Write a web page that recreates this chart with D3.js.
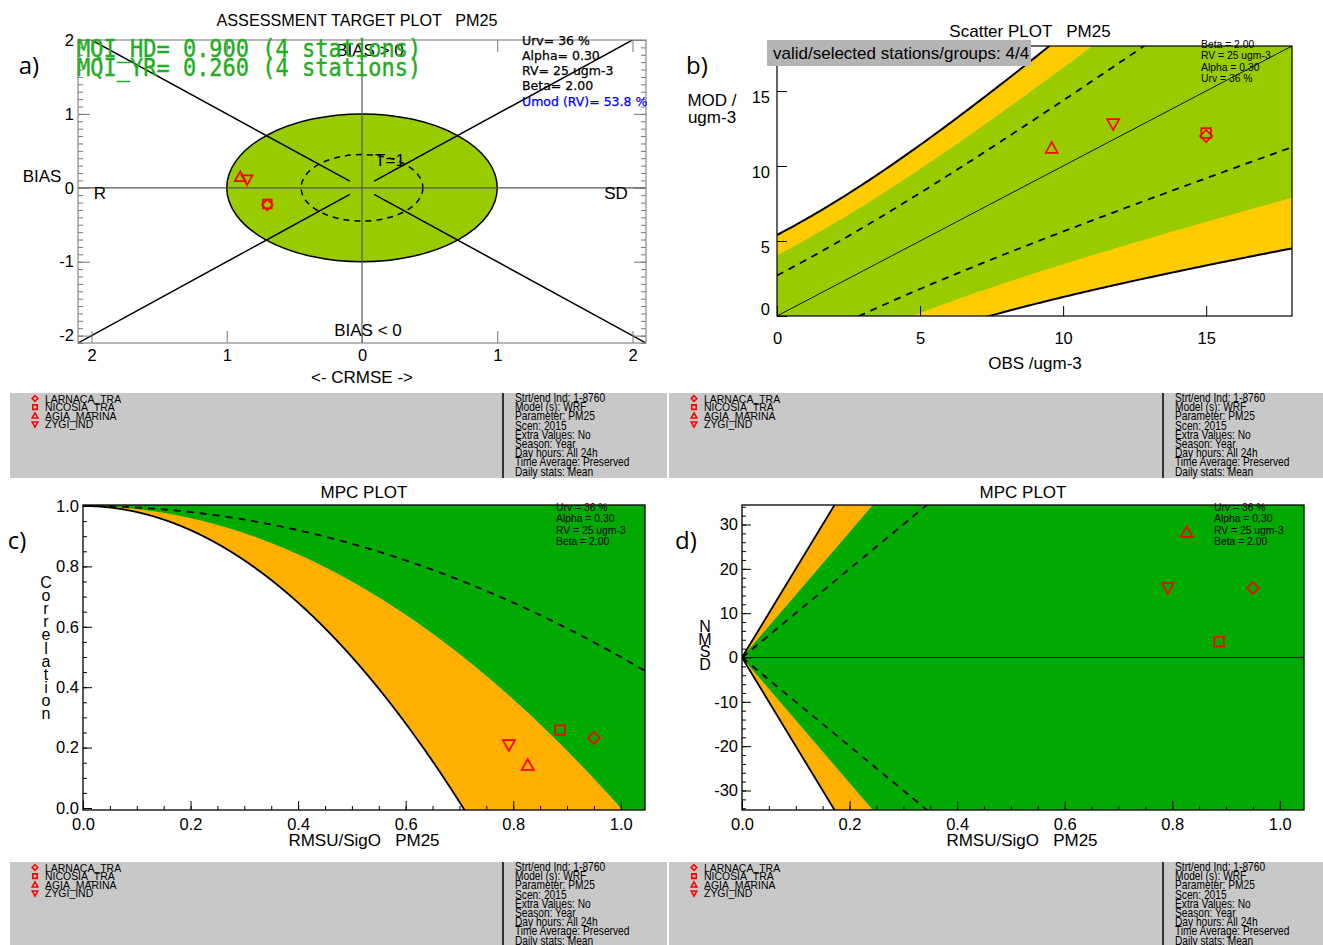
<!DOCTYPE html>
<html>
<head>
<meta charset="utf-8">
<script src="https://cdn.jsdelivr.net/npm/d3@7/dist/d3.min.js"></script>
<style>
html,body{margin:0;padding:0;background:#fff;}
</style>
</head>
<body>
<svg id="chart" width="1323" height="945" font-family='"Liberation Sans",Arial,sans-serif'></svg>
<script>
// ---------------- data ----------------
const stations = ["LARNACA_TRA","NICOSIA_TRA","AGIA_MARINA","ZYGI_IND"];
const stationSymbols = ["diamond","square","triangleUp","triangleDown"];
// a) target plot (normalised CRMSE, signed: R side <0, SD side >0 ; normalised BIAS)
const targetCRMSE = [-0.70,-0.70,-0.90,-0.85];
const targetBIAS  = [-0.23,-0.22, 0.15, 0.11];
// b) scatter (ugm-3)
const scatterOBS = [15.0,15.0, 9.6,11.75];
const scatterMOD = [12.0,12.2,11.2,12.8];
// c, d) MPC
const mpcRMSU = [0.950,0.887,0.827,0.792];
const mpcCorr = [0.232,0.258,0.142,0.209];
const mpcNMSD = [15.7,3.6,28.3,15.7];
// uncertainty parameters
const URV = 0.36, ALPHA = 0.30, RV = 25, BETA = 2.0;
const MQI_HD = "0.900", MQI_YR = "0.260", UMOD = "53.8", NSTAT = 4;
// tick values
const ticksA = [-2,-1,0,1,2];
const ticksB = [0,5,10,15];
const ticksC = [0,0.2,0.4,0.6,0.8,1.0];
const ticksDy = [-30,-20,-10,0,10,20,30];
const infoLines = ["Strt/end Ind: 1-8760","Model (s): WRF","Parameter: PM25","Scen: 2015",
  "Extra Values: No","Season: Year","Day hours: All 24h","Time Average: Preserved","Daily stats: Mean"];
const paramLines = ["Urv = 36 %","Alpha = 0.30","RV = 25 ugm-3","Beta = 2.00"];
const paramLinesA = ["Urv= 36 %","Alpha= 0.30","RV= 25 ugm-3","Beta= 2.00"];

// ---------------- helpers ----------------
const svg = d3.select("#chart");
const defs = svg.append("defs");
const FONT = '"Liberation Sans",Arial,sans-serif';
const GREEN1="#99cc00", ORANGE1="#ffcc00", GREEN2="#00aa00", ORANGE2="#ffb000", RED="#ff0000", MQIGREEN="#22ad22";
const TICKFS = 16.5, LABFS = 17;

function sym(type,s){
  switch(type){
    case "diamond": return `M0,${-s}L${s},0L0,${s}L${-s},0Z`;
    case "square": {const q=s*0.8; return `M${-q},${-q}H${q}V${q}H${-q}Z`;}
    case "triangleUp": return `M0,${-s}L${s},${s*0.8}L${-s},${s*0.8}Z`;
    case "triangleDown": return `M0,${s}L${s},${-s*0.8}L${-s},${-s*0.8}Z`;
  }
}
function clip(id,x0,y0,x1,y1){
  defs.append("clipPath").attr("id",id).append("rect")
    .attr("x",x0).attr("y",y0).attr("width",x1-x0).attr("height",y1-y0);
  return `url(#${id})`;
}
function drawAxis(g,axis,tx,ty,color,fs){
  const ax=g.append("g").attr("transform",`translate(${tx},${ty})`).call(axis);
  ax.select(".domain").remove();
  ax.selectAll(".tick line").attr("stroke",color).attr("stroke-width",1);
  ax.selectAll(".tick text").attr("font-size",fs||TICKFS).attr("fill","#000").attr("font-family",FONT);
  return ax;
}
function markers(g,xs,ys,sx,sy,size){
  stations.forEach((s,i)=>{
    g.append("path").attr("d",sym(stationSymbols[i],size||6))
      .attr("transform",`translate(${sx(xs[i])},${sy(ys[i])})`)
      .attr("fill","none").attr("stroke",RED).attr("stroke-width",1.7);
  });
}
function txt(g,x,y,t,opt){
  opt=opt||{};
  const e=g.append("text").attr("x",x).attr("y",y).text(t)
    .attr("font-size",opt.fs||LABFS).attr("fill",opt.fill||"#000")
    .attr("text-anchor",opt.anchor||"start")
    .attr("font-family",opt.family||FONT);
  e.attr("xml:space","preserve").style("white-space","pre");
  return e;
}
function stacked(g,x,y,word,dy,fs){
  const t=g.append("text").attr("x",x).attr("y",y).attr("font-size",fs||LABFS)
    .attr("text-anchor","middle").attr("fill","#000");
  word.split("").forEach((c,i)=>t.append("tspan").attr("x",x).attr("dy",i?dy:0).text(c));
}
function narrowLines(g,x,y,lines,dy,fs,sx){
  lines.forEach((t,i)=>{
    g.append("text").attr("transform",`translate(${x},${y+i*dy}) scale(${sx||0.9},1)`)
      .attr("font-size",fs).attr("fill","#000").text(t);
  });
}
const U = o => URV*Math.sqrt((1-ALPHA*ALPHA)*o*o + ALPHA*ALPHA*RV*RV);

// ================= a) TARGET PLOT =================
{
  const P={x0:78,x1:646,y0:40,y1:343};
  const x=d3.scaleLinear([-2.1,2.1],[P.x0,P.x1]);
  const y=d3.scaleLinear([-2.1,2.0],[P.y1,P.y0]);
  const g=svg.append("g");
  const cp=clip("clipA",P.x0,P.y0,P.x1,P.y1);
  const inner=g.append("g").attr("clip-path",cp);
  inner.append("ellipse").attr("cx",x(0)).attr("cy",y(0))
    .attr("rx",x(1)-x(0)).attr("ry",y(0)-y(1))
    .attr("fill",GREEN1).attr("stroke","#000").attr("stroke-width",1.5);
  inner.append("ellipse").attr("cx",x(0)).attr("cy",y(0))
    .attr("rx",x(0.45)-x(0)).attr("ry",y(0)-y(0.45))
    .attr("fill","none").attr("stroke","#000").attr("stroke-width",1.5).attr("stroke-dasharray","6,5");
  inner.append("line").attr("x1",x(-2.1)).attr("x2",x(2.1)).attr("y1",y(0)).attr("y2",y(0))
    .attr("stroke","#555").attr("stroke-width",1.2);
  inner.append("line").attr("x1",x(0)).attr("x2",x(0)).attr("y1",y(-2.1)).attr("y2",y(2.0))
    .attr("stroke","#555").attr("stroke-width",1.2);
  [[-1,1],[1,1],[-1,-1],[1,-1]].forEach(([sx,sy])=>{
    inner.append("line").attr("x1",x(sx*0.09)).attr("y1",y(sy*0.09))
      .attr("x2",x(sx*2.2)).attr("y2",y(sy*2.2)).attr("stroke","#000").attr("stroke-width",1.5);
  });
  // axes
  const minor=d3.range(-21,21).map(d=>d/10);
  drawAxis(g,d3.axisLeft(y).tickValues(ticksA).tickFormat(d=>String(d)).tickSizeInner(-12).tickSizeOuter(0).tickPadding(4),P.x0,0,"#777");
  drawAxis(g,d3.axisLeft(y).tickValues(minor).tickFormat("").tickSizeInner(-5).tickSizeOuter(0),P.x0,0,"#777");
  drawAxis(g,d3.axisRight(y).tickValues(ticksA).tickFormat("").tickSizeInner(-12).tickSizeOuter(0),P.x1,0,"#777");
  drawAxis(g,d3.axisRight(y).tickValues(minor).tickFormat("").tickSizeInner(-5).tickSizeOuter(0),P.x1,0,"#777");
  drawAxis(g,d3.axisBottom(x).tickValues(ticksA).tickFormat(d=>String(Math.abs(d))).tickSizeInner(-12).tickSizeOuter(0).tickPadding(6),0,P.y1,"#777");
  drawAxis(g,d3.axisTop(x).tickValues(ticksA).tickFormat("").tickSizeInner(-12).tickSizeOuter(0),0,P.y0,"#777");
  g.append("rect").attr("x",P.x0).attr("y",P.y0).attr("width",P.x1-P.x0).attr("height",P.y1-P.y0)
    .attr("fill","none").attr("stroke","#888").attr("stroke-width",1.2);
  // labels
  txt(g,370,56,"BIAS > 0",{anchor:"middle"});
  txt(g,390,166,"T=1",{anchor:"middle"});
  txt(g,368,336,"BIAS < 0",{anchor:"middle"});
  txt(g,100,199,"R",{anchor:"middle"});
  txt(g,616,199,"SD",{anchor:"middle"});
  txt(g,42,182,"BIAS",{anchor:"middle"});
  txt(g,362,383,"<- CRMSE ->",{anchor:"middle"});
  txt(g,357,26,"ASSESSMENT TARGET PLOT   PM25",{anchor:"middle",fs:16.2});
  txt(g,29,74,"a)",{anchor:"middle",fs:24,family:'"Open Sans",sans-serif'});
  markers(g,targetCRMSE,targetBIAS,x,y,5.5);
  // parameter text
  const pg=g.append("g").attr("clip-path",clip("clipAt",P.x0,P.y0-10,P.x1+1,P.y1));
  paramLinesA.forEach((t,i)=>txt(pg,522,44.5+i*15.3,t,{fs:12.5,family:'"DejaVu Sans",sans-serif'})
    .attr("stroke","#000").attr("stroke-width",0.25));
  txt(pg,522,44.5+4*15.3,`Umod (RV)= ${UMOD} %`,{fs:12.5,fill:"#0000ff",family:'"DejaVu Sans",sans-serif'})
    .attr("stroke","#0000ff").attr("stroke-width",0.25);
  [[57,`MQI_HD= ${MQI_HD} (${NSTAT} stations)`],[76,`MQI_YR= ${MQI_YR} (${NSTAT} stations)`]].forEach(([yy,t])=>{
    g.append("text").attr("transform",`translate(77,${yy}) scale(1,1.12)`)
      .attr("font-size",22).attr("font-family",'"DejaVu Sans Mono",monospace')
      .attr("fill",MQIGREEN).attr("stroke",MQIGREEN).attr("stroke-width",0.35)
      .attr("xml:space","preserve").style("white-space","pre").text(t);
  });
}

// ================= b) SCATTER PLOT =================
{
  const P={x0:777,x1:1292,y0:46,y1:316};
  const x=d3.scaleLinear([0,18],[P.x0,P.x1]);
  const y=d3.scaleLinear([0,18],[P.y1,P.y0]);
  const g=svg.append("g");
  const inner=g.append("g").attr("clip-path",clip("clipB",P.x0,P.y0,P.x1,P.y1));
  const og=d3.range(0,181).map(d=>d/10);
  const band=k=>og.map(o=>[o,o+k*U(o)]).concat(og.slice().reverse().map(o=>[o,o-k*U(o)]));
  const line=d3.line().x(d=>x(d[0])).y(d=>y(d[1]));
  inner.append("path").attr("d",line(band(BETA))+"Z").attr("fill",ORANGE1);
  inner.append("path").attr("d",line(band(1.5))+"Z").attr("fill",GREEN1);
  [1,-1].forEach(s=>{
    inner.append("path").attr("d",line(og.map(o=>[o,o+s*U(o)]))).attr("fill","none")
      .attr("stroke","#000").attr("stroke-width",1.8).attr("stroke-dasharray","7,6");
    inner.append("path").attr("d",line(og.map(o=>[o,o+s*BETA*U(o)]))).attr("fill","none")
      .attr("stroke","#000").attr("stroke-width",2);
  });
  inner.append("path").attr("d",line([[0,0],[18,18]])).attr("stroke","#000").attr("stroke-width",0.9);
  g.append("rect").attr("x",P.x0).attr("y",P.y0).attr("width",P.x1-P.x0).attr("height",P.y1-P.y0)
    .attr("fill","none").attr("stroke","#000").attr("stroke-width",1.2);
  const ay=drawAxis(g,d3.axisLeft(y).tickValues(ticksB).tickFormat(d=>String(d)).tickSizeInner(-10).tickSizeOuter(0).tickPadding(7),P.x0,0,"#000");
  ay.selectAll(".tick text").attr("transform",d=>d===0?"translate(0,-7)":"translate(0,6)");
  drawAxis(g,d3.axisBottom(x).tickValues(ticksB).tickFormat(d=>String(d)).tickSizeInner(-10).tickSizeOuter(0).tickPadding(16),0,P.y1,"#000");
  markers(g,scatterOBS,scatterMOD,x,y,6);
  g.append("rect").attr("x",767).attr("y",40).attr("width",264).attr("height",26).attr("fill","#b4b4b4");
  txt(g,773,59,"valid/selected stations/groups: 4/4");
  narrowLines(g,1201,48,paramLines.slice().reverse(),11.3,11.5,0.9);
  txt(g,1030,37,"Scatter PLOT   PM25",{anchor:"middle"});
  txt(g,712,106,"MOD /",{anchor:"middle"});
  txt(g,712,123,"ugm-3",{anchor:"middle"});
  txt(g,1035,369,"OBS /ugm-3",{anchor:"middle"});
  txt(g,697,74,"b)",{anchor:"middle",fs:24,family:'"Open Sans",sans-serif'});
}

// ================= c) MPC correlation =================
{
  const P={x0:83,x1:645,y0:505,y1:810};
  const x=d3.scaleLinear([0,1.045],[P.x0,P.x1]);
  const y=d3.scaleLinear([0,1],[808,506]);
  const g=svg.append("g");
  const inner=g.append("g").attr("clip-path",clip("clipC",P.x0,P.y0,P.x1,P.y1));
  const xg=d3.range(0,1051).map(d=>d/1000);
  const crit=b=>xg.map(v=>[v,1-0.5*b*b*v*v]);
  const line=d3.line().x(d=>x(d[0])).y(d=>y(d[1]));
  const area=d3.area().x(d=>x(d[0])).y0(P.y1+5).y1(d=>y(d[1]));
  inner.append("rect").attr("x",P.x0).attr("y",P.y0).attr("width",P.x1-P.x0).attr("height",P.y1-P.y0).attr("fill",GREEN2);
  inner.append("path").attr("d",area(crit(Math.SQRT2))).attr("fill",ORANGE2);
  inner.append("path").attr("d",area(crit(BETA))).attr("fill","#fff");
  inner.append("path").attr("d",line(crit(BETA))).attr("fill","none").attr("stroke","#000").attr("stroke-width",1.8);
  inner.append("path").attr("d",line(crit(1))).attr("fill","none").attr("stroke","#000").attr("stroke-width",1.8).attr("stroke-dasharray","7,6");
  g.append("rect").attr("x",P.x0).attr("y",P.y0).attr("width",P.x1-P.x0).attr("height",P.y1-P.y0)
    .attr("fill","none").attr("stroke","#000").attr("stroke-width",1.3);
  drawAxis(g,d3.axisLeft(y).tickValues(ticksC).tickFormat(d3.format(".1f")).tickSizeInner(-9).tickSizeOuter(0).tickPadding(4),P.x0,0,"#000");
  drawAxis(g,d3.axisLeft(y).tickValues(d3.range(0,21).map(d=>d/20)).tickFormat("").tickSizeInner(-4).tickSizeOuter(0),P.x0,0,"#000");
  drawAxis(g,d3.axisBottom(x).tickValues(ticksC).tickFormat(d3.format(".1f")).tickSizeInner(-9).tickSizeOuter(0).tickPadding(8),0,P.y1,"#000");
  drawAxis(g,d3.axisBottom(x).tickValues(d3.range(0,21).map(d=>d/20)).tickFormat("").tickSizeInner(-4).tickSizeOuter(0),0,P.y1,"#000");
  markers(g,mpcRMSU,mpcCorr,x,y,6);
  narrowLines(g,556,511,paramLines,11.3,11.5,0.9);
  txt(g,364,498,"MPC PLOT",{anchor:"middle"});
  txt(g,364,846,"RMSU/SigO   PM25",{anchor:"middle"});
  stacked(g,46,588,"Correlation",13.1,16);
  txt(g,17,549,"c)",{anchor:"middle",fs:24,family:'"Open Sans",sans-serif'});
}

// ================= d) MPC NMSD =================
{
  const P={x0:742,x1:1304,y0:505,y1:810};
  const x=d3.scaleLinear([0,1.045],[P.x0,P.x1]);
  const y=d3.scaleLinear([-34.4,34.4],[P.y1,P.y0]);
  const g=svg.append("g");
  const inner=g.append("g").attr("clip-path",clip("clipD",P.x0,P.y0,P.x1,P.y1));
  const xg=[0,0.3,0.5];
  const lim=(b,s)=>xg.map(v=>[v,s*100*b*v]);
  const line=d3.line().x(d=>x(d[0])).y(d=>y(d[1]));
  inner.append("rect").attr("x",P.x0).attr("y",P.y0).attr("width",P.x1-P.x0).attr("height",P.y1-P.y0).attr("fill",GREEN2);
  [1,-1].forEach(s=>{
    inner.append("path").attr("d",line(lim(Math.SQRT2,s).concat([[0,s*60]]))+"Z").attr("fill",ORANGE2);
    inner.append("path").attr("d",line(lim(BETA,s).concat([[0,s*60]]))+"Z").attr("fill","#fff");
    inner.append("path").attr("d",line(lim(BETA,s))).attr("fill","none").attr("stroke","#000").attr("stroke-width",1.8);
    inner.append("path").attr("d",line(lim(1,s))).attr("fill","none").attr("stroke","#000").attr("stroke-width",1.8).attr("stroke-dasharray","7,6");
  });
  inner.append("path").attr("d",line([[0,0],[1.045,0]])).attr("stroke","#000").attr("stroke-width",1.2);
  g.append("rect").attr("x",P.x0).attr("y",P.y0).attr("width",P.x1-P.x0).attr("height",P.y1-P.y0)
    .attr("fill","none").attr("stroke","#000").attr("stroke-width",1.3);
  drawAxis(g,d3.axisLeft(y).tickValues(ticksDy).tickFormat(d=>String(d)).tickSizeInner(-9).tickSizeOuter(0).tickPadding(4),P.x0,0,"#000");
  drawAxis(g,d3.axisLeft(y).tickValues(d3.range(-34,35,2)).tickFormat("").tickSizeInner(-4).tickSizeOuter(0),P.x0,0,"#000");
  drawAxis(g,d3.axisBottom(x).tickValues(ticksC).tickFormat(d3.format(".1f")).tickSizeInner(-9).tickSizeOuter(0).tickPadding(8),0,P.y1,"#000");
  drawAxis(g,d3.axisBottom(x).tickValues(d3.range(0,21).map(d=>d/20)).tickFormat("").tickSizeInner(-4).tickSizeOuter(0),0,P.y1,"#000");
  markers(g,mpcRMSU,mpcNMSD,x,y,6);
  narrowLines(g,1214,511,paramLines,11.3,11.5,0.9);
  txt(g,1023,498,"MPC PLOT",{anchor:"middle"});
  txt(g,1022,846,"RMSU/SigO   PM25",{anchor:"middle"});
  stacked(g,705,632,"NMSD",12.5,16);
  txt(g,686,549,"d)",{anchor:"middle",fs:24,family:'"Open Sans",sans-serif'});
}

// ================= legend / info boxes =================
function legendBox(x0,y0,w,h,divX){
  const g=svg.append("g");
  g.append("rect").attr("x",x0).attr("y",y0).attr("width",w).attr("height",h).attr("fill","#c8c8c8");
  g.append("line").attr("x1",x0+divX).attr("x2",x0+divX).attr("y1",y0).attr("y2",y0+h)
    .attr("stroke","#000").attr("stroke-width",1.5);
  stations.forEach((s,i)=>{
    const yy=y0+5.5+i*8.6;
    g.append("path").attr("d",sym(stationSymbols[i],2.8)).attr("transform",`translate(${x0+25},${yy})`)
      .attr("fill","none").attr("stroke",RED).attr("stroke-width",1.6);
    g.append("text").attr("transform",`translate(${x0+35},${yy+4}) scale(0.91,1)`)
      .attr("font-size",11.5).attr("fill","#000").text(s);
  });
  narrowLines(g,x0+divX+12,y0+9,infoLines,9.2,12,0.85);
}
legendBox(10,393,657,85,493);
legendBox(669,393,654,85,494);
legendBox(10,862,657,83,493);
legendBox(669,862,654,83,494);
</script>
</body>
</html>
